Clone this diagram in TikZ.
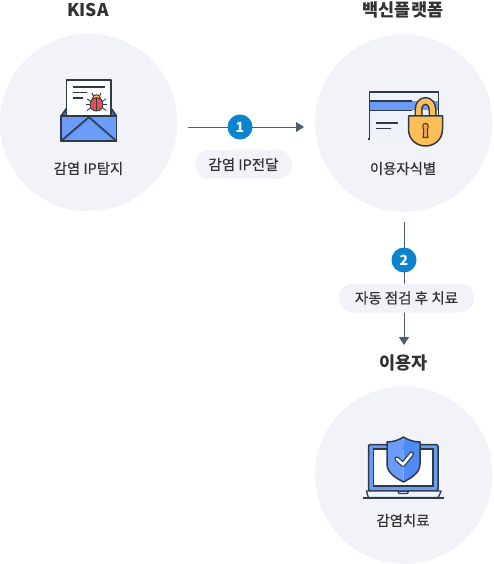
\documentclass[tikz,border=0pt]{standalone}
\usepackage{fontspec}
\setmainfont{Noto Sans CJK KR}
\usetikzlibrary{arrows.meta}
\definecolor{pale}{HTML}{F1F3F8}
\definecolor{ink}{HTML}{2F3A45}
\definecolor{txt}{HTML}{333333}
\definecolor{wire}{HTML}{4F5D70}
\definecolor{badgeblue}{HTML}{0A84D0}
\definecolor{blue1}{HTML}{6B9DF8}
\definecolor{blue2}{HTML}{4F8AF5}
\definecolor{paper}{HTML}{EEF2FA}
\definecolor{gold}{HTML}{FDBE57}
\definecolor{gold2}{HTML}{F5A93B}
\definecolor{bug}{HTML}{E8504F}
\tikzset{
  disc/.style={circle,fill=pale,minimum size=177.5pt,inner sep=0pt},
  headline/.style={font=\fontsize{17.5}{20}\selectfont\bfseries,text=txt,inner sep=0pt},
  capt/.style={font=\fontsize{14.4}{17}\selectfont\addfontfeatures{FakeBold=0.45},text=txt,inner sep=0pt},
  pill/.style={rounded corners=14.5pt,fill=pale,minimum height=29pt,inner sep=0pt,font=\fontsize{14.5}{17}\selectfont\addfontfeatures{FakeBold=0.45},text=txt},
  badge/.style={circle,fill=badgeblue,minimum size=25pt,inner sep=0pt,text=white,font=\fontsize{14}{16}\selectfont\bfseries},
  link/.style={draw=wire,line width=0.9pt},
  arrowtip/.style={-{Triangle[length=8pt,width=10pt,fill=wire]}},
  ic/.style={draw=ink,line width=1.5pt,line join=round},
  fine/.style={draw=ink,line width=1.1pt}
}
\begin{document}
\begin{tikzpicture}[x=1pt,y=-1pt]
\useasboundingbox (0,0) rectangle (493,564);
% discs
\node[disc] (kisa) at (88.5,122.5) {};
\node[disc] (plat) at (403.8,123) {};
\node[disc] (user) at (403.8,475) {};
% titles
\node[headline] (t1) at (88,9.5) {KISA};
\node[headline] (t2) at (403,9.5) {백신플랫폼};
\node[headline] (t3) at (403.5,362.5) {이용자};
% captions
\node[capt] (c1) at (88.5,168.5) {감염 IP탐지};
\node[capt] (c2) at (403,168.5) {이용자식별};
\node[capt] (c3) at (403,520.5) {감염치료};
% connectors
\coordinate (a1) at (188,127);
\coordinate (a2) at (304,127);
\coordinate (b1) at (404,222);
\coordinate (b2) at (404,345);
\draw[link,arrowtip] (a1) -- (a2);
\draw[link,arrowtip] (b1) -- (b2);
\node[badge] (n1) at (240,127) {1};
\node[badge] (n2) at (404,260) {2};
\node[pill,minimum width=97pt] (p1) at (243.5,164.5) {감염 IP전달};
\node[pill,minimum width=135pt] (p2) at (406.5,298) {자동 점검 후 치료};
% envelope icon
\fill[blue2!60!ink] (61,116) -- (67,107) -- (111,107) -- (116.5,116) -- cycle;
\draw[ic] (61,116) -- (66.7,108) (116.5,116) -- (111,108);
\filldraw[ic,fill=white] (66.7,116) -- (66.7,80) -- (111,80) -- (111,116);
\draw[fine] (72.5,87) -- (105,87) (72.5,92.5) -- (87,92.5) (72.5,98) -- (83,98);
% bug
\draw[fine,line width=0.9pt] (87,99)--(91,101.5) (106,99)--(102,101.5) (86,104.5)--(91,104.5) (107,104.5)--(102,104.5) (87,110.5)--(91,107.5) (106,110.5)--(102,107.5) (92,93)--(93.5,96) (101,93)--(99.5,96);
\filldraw[draw=ink,line width=0.9pt,fill=gold] (92.5,98.5) .. controls (92.5,93.5) and (100.5,93.5) .. (100.5,98.5) -- cycle;
\filldraw[draw=ink,line width=0.9pt,fill=bug] (96.5,97.7) .. controls (88,97.7) and (88,111) .. (96.5,111) .. controls (105,111) and (105,97.7) .. (96.5,97.7) -- cycle;
\draw[draw=ink,line width=0.8pt] (96.5,97.7) -- (96.5,111);
\filldraw[ic,fill=blue1] (61,116) rectangle (116.5,141);
\fill[blue2] (61.5,140) -- (89,117) -- (116,140) -- cycle;
\fill[blue1] (65,140.4) -- (89,120) -- (113,140.4) -- cycle;
\draw[ic] (61,141) -- (89,117) -- (116.5,141);
\draw[ic] (61,116) rectangle (116.5,141);
% card + lock
\fill[paper] (369.5,92) rectangle (438.5,139);
\fill[blue1] (369.5,101) rectangle (438.5,110.5);
\draw[fine,line width=1.5pt] (367.5,139) -- (369.5,139) -- (369.5,92) -- (438.5,92) -- (438.5,115);
\draw[fine] (369.5,101) -- (412,101) (369.5,110.5) -- (412,110.5);
\draw[fine] (375.5,123) -- (397.5,123) (375.5,128.5) -- (391,128.5);
% shackle
\draw[draw=ink,line width=8pt] (418.5,117) -- (418.5,110) .. controls (418.5,98) and (432.5,98) .. (432.5,110) -- (432.5,117);
\draw[draw=gold,line width=5pt] (418.5,118) -- (418.5,110) .. controls (418.5,98) and (432.5,98) .. (432.5,110) -- (432.5,118);
\filldraw[ic,fill=gold] (408.5,116) -- (442.5,116) -- (442.5,129) .. controls (442.5,140) and (434,146) .. (425.5,146) .. controls (417,146) and (408.5,140) .. (408.5,129) -- cycle;
\draw[draw=ink,line width=1.1pt,fill=gold2] (425.5,123.5) .. controls (428.5,123.5) and (429,127) .. (427.3,129.5) -- (427.8,137.5) -- (423.2,137.5) -- (423.7,129.5) .. controls (422,127) and (422.5,123.5) .. (425.5,123.5) -- cycle;
% laptop + shield
\filldraw[ic,fill=blue1,rounded corners=2pt] (368.5,491) -- (368.5,444.5) -- (438,444.5) -- (438,491) -- cycle;
\filldraw[draw=ink,line width=1.1pt,fill=white] (373.5,449) rectangle (433,486);
\filldraw[ic,line width=1.3pt,fill=paper] (366.5,491) -- (398,491) -- (399,493.5) -- (407.5,493.5) -- (408.5,491) -- (441,491) -- (439.5,495) -- (438,497.5) -- (368.5,497.5) -- (367.5,495) -- cycle;
\draw[ic] (363,498) -- (444,498);
\fill[blue1] (403.5,437) .. controls (399,440) and (393,442) .. (387,442) -- (387,464) .. controls (387,473) and (396,478) .. (403.5,482) -- cycle;
\fill[blue2] (403.5,437) .. controls (408,440) and (414,442) .. (420,442) -- (420,464) .. controls (420,473) and (411,478) .. (403.5,482) -- cycle;
\draw[ic] (403.5,437) .. controls (399,440) and (393,442) .. (387,442) -- (387,464) .. controls (387,473) and (396,478) .. (403.5,482) .. controls (411,478) and (420,473) .. (420,464) -- (420,442) .. controls (414,442) and (408,440) .. (403.5,437) -- cycle;
\draw[draw=ink,line width=5pt,line cap=round,line join=round] (397,459) -- (403,464.5) -- (411.5,454);
\draw[draw=white,line width=2.6pt,line cap=round,line join=round] (397,459) -- (403,464.5) -- (411.5,454);
\end{tikzpicture}
\end{document}
